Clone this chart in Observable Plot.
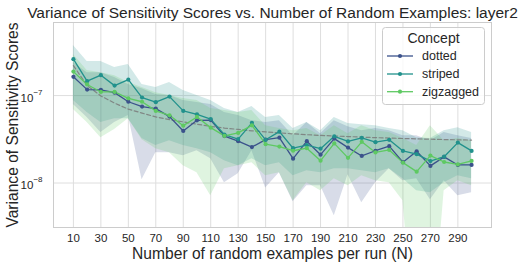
<!DOCTYPE html>
<html>
<head>
<meta charset="utf-8">
<script src="https://cdn.jsdelivr.net/npm/d3@7"></script>
<script src="https://cdn.jsdelivr.net/npm/@observablehq/plot@0.6"></script>
<style>
  html, body { margin: 0; padding: 0; background: #fff; }
  #chart { width: 523px; height: 267px; }
</style>
</head>
<body>
<div id="chart"></div>
<script>
// ---- data (values in units of 1e-8) ----
const N = [10,20,30,40,50,60,70,80,90,100,110,120,130,140,150,160,170,180,190,200,210,220,230,240,250,260,270,280,290,300];
const xTicks = [10,30,50,70,90,110,130,150,170,190,210,230,250,270,290];
const yTicks = [1e-8, 1e-7];
const concepts = ["dotted", "striped", "zigzagged"];
const colors = ["#3b528b", "#21918c", "#5ec962"];

const dottedMean = [16.4,11.7,11.6,10.8,8.5,7.48,7.1,5.75,3.94,5.21,5.24,3.44,3.01,2.58,3.13,3.30,1.90,3.01,2.11,3.22,2.54,2.04,2.34,2.64,1.73,2.31,1.57,1.99,1.61,1.61];
const dottedHi   = [23.9,18.3,18.3,16.1,13.4,12.0,10.3,10.0,8.76,8.31,7.89,6.39,5.90,5.17,4.91,5.17,3.48,4.91,3.67,5.17,4.41,3.97,4.19,3.97,3.48,3.48,3.05,3.77,3.48,3.22];
const dottedLo   = [7.89,5.60,3.77,4.91,5.90,1.09,2.22,2.22,2.05,2.34,1.90,1.01,1.28,2.34,0.88,1.31,0.611,0.93,0.93,0.422,1.24,0.595,1.01,1.46,1.06,1.12,0.644,1.06,0.715,0.774];

const stripedMean = [26.1,14.6,17.1,13.0,15.2,9.5,8.4,9.74,6.68,6.1,5.38,3.58,3.18,4.88,3.12,3.87,2.50,2.72,2.47,3.42,2.99,3.28,2.93,3.12,2.33,2.14,1.78,2.00,2.90,2.33];
const stripedHi   = [37.4,24.5,24.5,20.9,22.7,13.4,12.35,14.1,11.4,10.0,8.76,7.10,6.39,7.48,5.60,5.90,4.19,4.91,3.97,5.60,4.78,4.65,4.53,4.19,3.97,3.30,3.22,3.97,4.30,3.77];
const stripedLo   = [8.76,6.39,4.91,5.45,5.45,3.22,2.68,3.05,2.68,2.47,2.22,1.80,1.58,1.90,1.58,1.71,1.21,1.38,1.31,1.46,1.46,1.38,1.31,1.46,1.12,0.816,0.774,1.01,1.21,1.12];

const zigMean = [18.8,13.4,11.0,11.0,9.3,8.5,6.68,5.95,4.53,5.70,4.30,3.46,3.74,4.57,2.78,2.61,2.34,2.50,1.80,2.84,1.94,2.96,2.24,2.39,1.71,1.35,2.06,1.74,1.63,1.79];
const zigHi   = [29.5,19.3,18.3,16.9,14.1,12.35,10.8,10.0,9.24,8.76,7.10,6.73,6.39,6.73,4.53,4.19,3.97,4.19,3.48,4.53,3.67,4.53,3.97,3.77,3.22,2.68,4.53,3.05,3.22,3.05];
const zigLo   = [6.91,4.91,3.30,4.08,5.45,3.13,2.47,2.22,1.58,1.31,0.715,1.46,1.58,1.71,1.21,1.31,0.627,1.01,0.816,1.12,0.93,1.21,1.06,1.01,0.627,0.01,0.01,0.816,1.06,0.93];

const trend = [22,13,9.9,8.2,7.0,6.3,5.7,5.3,5.0,4.7,4.45,4.25,4.1,3.95,3.85,3.75,3.65,3.57,3.5,3.45,3.4,3.35,3.3,3.27,3.23,3.2,3.17,3.14,3.12,3.1];

const UNIT = 1e-8;
const seriesData = {
  dotted: [dottedMean, dottedLo, dottedHi],
  striped: [stripedMean, stripedLo, stripedHi],
  zigzagged: [zigMean, zigLo, zigHi]
};
const rows = [];
for (const c of concepts) {
  const [m, lo, hi] = seriesData[c];
  N.forEach((n, i) => rows.push({N: n, concept: c, mean: m[i] * UNIT, lo: lo[i] * UNIT, hi: hi[i] * UNIT}));
}
const trendRows = N.map((n, i) => ({N: n, v: trend[i] * UNIT}));

const FONT = "'Liberation Sans', Arial, Helvetica, sans-serif";
const TXT = "#262626";

const svg = Plot.plot({
  width: 523,
  height: 267,
  marginLeft: 53,
  marginRight: 32,
  marginTop: 22,
  marginBottom: 40,
  style: {fontFamily: FONT, color: TXT, background: "#fff"},
  x: {type: "linear", domain: [-4.5, 314.5]},
  y: {type: "log", domain: [3.1e-9, 6.85e-7]},
  color: {domain: concepts, range: colors},
  marks: [
    Plot.gridX(xTicks, {stroke: "#dedede", strokeOpacity: 1, strokeWidth: 1}),
    Plot.gridY(yTicks, {stroke: "#dedede", strokeOpacity: 1, strokeWidth: 1}),
    Plot.areaY(rows, {x: "N", y1: "lo", y2: "hi", z: "concept", fill: "concept", fillOpacity: 0.2, clip: true}),
    Plot.lineY(trendRows, {x: "N", y: "v", stroke: "#7a7a7a", strokeOpacity: 0.85, strokeWidth: 1.2, strokeDasharray: "4,2.5"}),
    Plot.lineY(rows, {x: "N", y: "mean", z: "concept", stroke: "concept", strokeWidth: 1.3}),
    Plot.dot(rows, {x: "N", y: "mean", fill: "concept", r: 2.1}),
    Plot.frame({stroke: "#cccccc", strokeWidth: 1}),
    Plot.axisX({ticks: xTicks, tickSize: 0, tickPadding: 6, fontSize: 11.5, label: null, tickFormat: d => String(d)}),
    Plot.axisY({ticks: yTicks, tickSize: 0, tickPadding: 11, fontSize: 11.5, label: null, dy: 2.5,
      tickFormat: d => "10^" + Math.round(Math.log10(d))}),
    Plot.text(["Variance of Sensitivity Scores vs. Number of Random Examples: layer2"],
      {frameAnchor: "top", lineAnchor: "bottom", textAnchor: "middle", dy: -5, fontSize: 15.5, fill: TXT}),
    Plot.text(["Number of random examples per run (N)"],
      {frameAnchor: "bottom", lineAnchor: "bottom", textAnchor: "middle", dy: 31, fontSize: 15.6, fill: TXT}),
    Plot.text(["Variance of Sensitivity Scores"],
      {frameAnchor: "left", lineAnchor: "middle", textAnchor: "middle", rotate: -90, dx: -40.5, fontSize: 15.6, fill: TXT})
  ]
});

document.getElementById("chart").appendChild(svg);

// superscript exponents on log tick labels
d3.select(svg).selectAll("g[aria-label='y-axis tick label'] text").each(function () {
  const t = d3.select(this);
  const s = t.text();
  const exp = s.split("^")[1].replace("-", "\u2212");
  t.text(null);
  t.append("tspan").text("10");
  t.append("tspan").attr("dy", "-7").attr("font-size", "8px").text(exp);
});

// legend
const lg = d3.select(svg).append("g").attr("font-family", FONT).attr("text-anchor", "start");
lg.append("rect").attr("x", 382.5).attr("y", 27.5).attr("width", 102).attr("height", 77)
  .attr("rx", 3).attr("fill", "#fff").attr("fill-opacity", 0.8).attr("stroke", "#cccccc");
lg.append("text").attr("x", 433.5).attr("y", 42.7).attr("text-anchor", "middle")
  .attr("font-size", 14).attr("fill", TXT).text("Concept");
const rowY = [56, 74, 91.7];
concepts.forEach((c, i) => {
  const y = rowY[i];
  lg.append("line").attr("x1", 387).attr("x2", 413).attr("y1", y).attr("y2", y)
    .attr("stroke", colors[i]).attr("stroke-width", 1.3);
  lg.append("circle").attr("cx", 400).attr("cy", y).attr("r", 2.1).attr("fill", colors[i]);
  lg.append("text").attr("x", 422).attr("y", y + 4.3).attr("text-anchor", "start")
    .attr("font-size", 12.5).attr("fill", TXT).text(c);
});
</script>
</body>
</html>
